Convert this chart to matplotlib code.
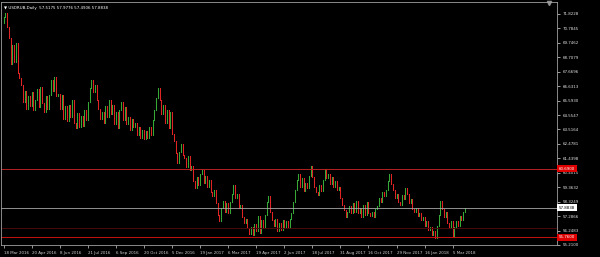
import numpy as np
import matplotlib
matplotlib.use("Agg")
import matplotlib.pyplot as plt

# ---------------- data ----------------
title_text = "USDRUB,Daily  57.5175 57.9776 57.4906 57.8838"
first_open = 71.2
closes = [
    71.6, 71.9, 70.9, 70.1, 68.2, 69.6, 68.4, 69.7, 67.6, 67.2,
    66.7, 65.5, 66.3, 65.0, 65.9, 65.2, 66.2, 64.9, 65.6, 66.4,
    65.1, 66.6, 65.4, 64.8, 65.9, 65.0, 66.0, 67.1, 66.3, 67.3,
    65.9, 66.1, 65.0, 66.0, 64.3, 65.2, 64.1, 65.3, 64.4, 65.6,
    64.0, 63.6, 64.7, 63.7, 64.5, 63.8, 64.9, 64.2, 65.5, 66.5,
    67.1, 66.2, 66.7, 65.6, 65.0, 64.3, 64.8, 64.0, 65.2, 64.4,
    65.6, 64.6, 65.3, 63.9, 64.8, 63.6, 64.9, 65.5, 64.2, 65.1,
    63.9, 64.4, 63.5, 64.3, 63.7, 64.0, 63.1, 63.7, 62.9, 63.5,
    62.8, 63.4, 62.9, 63.7, 63.1, 64.2, 64.9, 65.8, 66.5, 65.6,
    64.6, 65.3, 64.0, 64.9, 63.6, 64.8, 63.2, 62.7, 61.8, 61.1,
    61.9, 62.5, 61.7, 61.5, 60.8, 61.6, 60.6, 60.9, 59.8, 59.3,
    60.1, 59.5, 60.3, 60.6, 59.7, 60.2, 59.4, 59.9, 59.0, 58.7,
    59.2, 58.2, 57.4, 56.9, 57.9, 58.4, 57.6, 58.2, 57.5, 58.3,
    58.9, 59.5, 58.6, 58.9, 57.9, 58.1, 57.2, 56.8, 57.1, 56.4,
    56.0, 56.5, 55.9, 56.7, 56.2, 57.3, 56.1, 57.0, 56.4, 57.4,
    58.3, 58.7, 57.6, 57.0, 56.6, 57.1, 56.2, 56.8, 56.3, 57.0,
    56.5, 56.9, 56.4, 57.1, 57.5, 58.3, 59.2, 59.9, 60.3, 59.4,
    60.0, 59.1, 59.7, 59.3, 60.2, 60.9, 60.1, 59.4, 59.0, 58.8,
    59.5, 59.1, 59.9, 60.7, 60.0, 60.3, 59.6, 60.1, 59.4, 59.8,
    59.2, 59.4, 58.6, 58.1, 57.7, 57.2, 57.6, 58.0, 57.5, 58.2,
    57.6, 58.4, 57.5, 57.9, 57.2, 58.1, 57.4, 58.3, 57.5, 57.3,
    57.6, 57.2, 57.8, 58.0, 58.6, 58.3, 59.0, 58.7, 59.2, 59.8,
    60.3, 59.6, 59.2, 58.6, 58.9, 58.3, 58.1, 58.8, 58.5, 59.3,
    58.9, 58.2, 58.5, 57.8, 57.6, 57.9, 57.3, 57.5, 57.0, 57.2,
    56.6, 56.9, 56.3, 56.5, 55.9, 56.2, 55.7, 56.6, 57.4, 58.4,
    57.8, 57.2, 57.6, 56.8, 56.4, 56.9, 55.8, 56.5, 56.9, 56.6,
    57.3, 57.0, 57.6, 57.88,
]
date_labels = ["18 Mar 2016", "20 Apr 2016", "8 Jun 2016", "21 Jul 2016",
               "6 Sep 2016", "20 Oct 2016", "5 Dec 2016", "19 Jan 2017",
               "6 Mar 2017", "19 Apr 2017", "2 Jun 2017", "18 Jul 2017",
               "31 Aug 2017", "16 Oct 2017", "29 Nov 2017", "16 Jan 2018",
               "5 Mar 2018"]
date_label_bars = [0, 16, 32, 48, 64, 80, 96, 112, 128, 144, 160, 176,
                   192, 208, 224, 240, 256]
price_labels = ["55.2100", "56.2483", "57.2866", "58.3249", "59.3632",
                "60.4015", "61.4398", "62.4781", "63.5164", "64.5547",
                "65.5930", "66.6313", "67.6696", "68.7079", "69.7462",
                "70.7845", "71.8228"]
resistance = 60.69
support_main = 55.76
support_dim = 56.40
current_price = 57.8838

# ---------------- figure ----------------
W, H = 600, 257
fig = plt.figure(figsize=(W / 100, H / 100), dpi=100, facecolor="black")
ax = fig.add_axes([1 / W, 12 / H, 556 / W, 243 / H])
ax.set_facecolor("black")

c = np.array(closes)
o = np.r_[first_open, c[:-1]]
x = np.arange(len(c))
up = c >= o
green = "#35a835"
red = "#e02424"
ax.vlines(x[up], o[up], c[up], color=green, lw=0.75, capstyle="projecting")
ax.vlines(x[~up], o[~up], c[~up], color=red, lw=0.75, capstyle="projecting")

# horizontal levels
ax.axhline(resistance, color="#b52222", lw=0.7)
ax.axhline(support_dim, color="#4a0a0a", lw=0.7)
ax.axhline(support_main, color="#c81010", lw=0.7)
ax.axhline(current_price, color="#a8a8a8", lw=0.6)

ax.set_xlim(-1.5, 315.5)
ax.set_ylim(55.33, 72.68)

FS = 2.9

# y axis on right
ax.yaxis.tick_right()
yt = [float(s) for s in price_labels]
ax.set_yticks(yt, price_labels)
ax.tick_params(axis="y", colors="#e0e0e0", labelsize=FS, length=2,
               width=0.5, pad=2)

# x axis
ax.set_xticks(date_label_bars, date_labels)
ax.tick_params(axis="x", colors="#d0d0d0", labelsize=FS, length=2.5,
               width=0.5, pad=1.5, direction="out")
for lab in ax.get_xticklabels():
    lab.set_horizontalalignment("left")

for side in ["left", "top", "bottom", "right"]:
    ax.spines[side].set_color("#a0a0a0")
    ax.spines[side].set_linewidth(0.6)

# price boxes
ytr = ax.get_yaxis_transform()
ax.text(1.003, resistance, "%.4f" % resistance, transform=ytr, fontsize=FS,
        color="white", ha="left", va="center", clip_on=False,
        bbox=dict(boxstyle="square,pad=0.4", fc="#e00000", ec="none"))
ax.text(1.003, support_main, "%.4f" % support_main, transform=ytr, fontsize=FS,
        color="white", ha="left", va="center", clip_on=False,
        bbox=dict(boxstyle="square,pad=0.4", fc="#e00000", ec="none"))
ax.text(1.003, current_price, "%.4f" % current_price, transform=ytr,
        fontsize=FS, color="black", ha="left", va="center", clip_on=False,
        bbox=dict(boxstyle="square,pad=0.4", fc="white", ec="none"))

# title
ax.text(0.006, 0.985, "\u25BC " + title_text, transform=ax.transAxes,
        fontsize=FS, color="white", ha="left", va="top")
# chart shift marker
ax.plot([0.9855], [0.995], marker="v", color="#909090", markersize=3,
        transform=ax.transAxes, clip_on=False)

fig.savefig("out.png", dpi=100, facecolor="black")
